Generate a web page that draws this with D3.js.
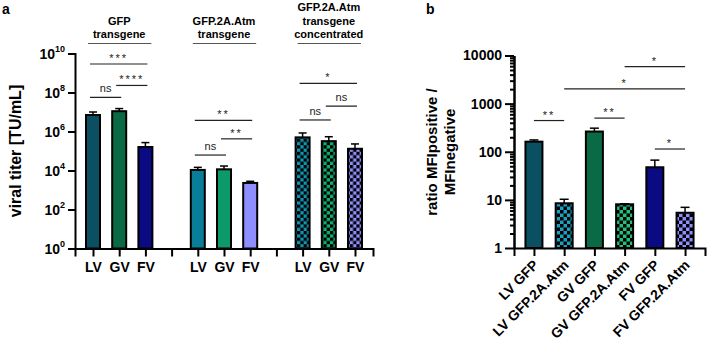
<!DOCTYPE html>
<html>
<head>
<meta charset="utf-8">
<script src="https://cdn.jsdelivr.net/npm/d3@7"></script>
<style>
  body { margin: 0; background: #fff; }
  svg { font-family: Arial, "Liberation Sans", sans-serif; }
  .axis path, .axis line { stroke: #000; stroke-width: 2; }
  .axis text { font-weight: bold; font-size: 14px; fill: #000; }
  .sig { font-size: 11px; fill: #222; }
</style>
</head>
<body>
<svg id="chart" width="708" height="345"></svg>
<script>
// ---- panel a data ----
const vectorsA = ['LV', 'GV', 'FV'];
const groupTitlesA = [['GFP', 'transgene'], ['GFP.2A.Atm', 'transgene'], ['GFP.2A.Atm', 'transgene', 'concentrated']];
const titerMean = [[7e6, 1.1e7, 1.6e5], [1.07e4, 1.15e4, 2.3e3], [5e5, 3.2e5, 1.3e5]];
const titerUpper = [[1e7, 1.5e7, 2.7e5], [1.45e4, 1.7e4, 2.8e3], [8.4e5, 5.4e5, 2.3e5]];
const yTicksA = [1e0, 1e2, 1e4, 1e6, 1e8, 1e10];
// [group, fromBar, toBar, label, height]
const sigA = [
  [0, 0, 1, 'ns', 5.6e7], [0, 0, 2, '***', 2.9e9], [0, 1, 2, '****', 2.3e8],
  [1, 0, 1, 'ns', 6.2e4], [1, 0, 2, '**', 3.7e6], [1, 1, 2, '**', 4.2e5],
  [2, 0, 1, 'ns', 3.9e6], [2, 0, 2, '*', 2.95e8], [2, 1, 2, 'ns', 2.0e7]
];

// ---- panel b data ----
const samplesB = ['LV GFP', 'LV GFP.2A.Atm', 'GV GFP', 'GV GFP.2A.Atm', 'FV GFP', 'FV GFP.2A.Atm'];
const ratioMean = [162, 8.5, 263, 8.1, 47.6, 5.4];
const ratioUpper = [176, 10.3, 309, 8.3, 67, 7.0];
const yTicksB = [1, 10, 100, 1000, 10000];
const sigB = [
  [0, 1, '**', 445], [2, 3, '**', 500], [1, 5, '*', 2030], [3, 5, '*', 5870], [4, 5, '*', 114]
];

const svg = d3.select('#chart');

// colours & checker patterns
const solidA = [['#0b4f62', '#0a6a45', '#0a0a82'], ['#0a7e98', '#0c9a68', '#8e8eff']];
const checkA = ['#1097b3', '#10b070', '#8f8fff'];
const colorB = ['#0b4f62', 'url(#chkB0)', '#0a6a45', 'url(#chkB1)', '#0a0a82', 'url(#chkB2)'];
const checkB = ['#1aa0c0', '#1fc07e', '#8f8fff'];

const defs = svg.append('defs');
function checker(id, col, s) {
  const p = defs.append('pattern').attr('id', id).attr('patternUnits', 'userSpaceOnUse')
    .attr('width', 2 * s).attr('height', 2 * s);
  p.append('rect').attr('width', 2 * s).attr('height', 2 * s).attr('fill', col);
  p.append('rect').attr('width', s).attr('height', s).attr('fill', '#000');
  p.append('rect').attr('x', s).attr('y', s).attr('width', s).attr('height', s).attr('fill', '#000');
}
checkA.forEach((c, i) => checker('chkA' + i, c, 3.3));
checkB.forEach((c, i) => checker('chkB' + i, c, 3.5));

// panel labels
svg.append('text').attr('x', 2).attr('y', 14).attr('font-weight', 'bold').attr('font-size', 14).text('a');
svg.append('text').attr('x', 426).attr('y', 14).attr('font-weight', 'bold').attr('font-size', 14).text('b');

// ================= panel a =================
const slotsA = d3.range(11);
const xA = d3.scalePoint().domain(slotsA).range([75, 373]).padding(0.687);
const yA = d3.scaleLog().domain([1, 1e10]).range([248.5, 53.5]);
const slotOf = (g, i) => g * 4 + i;

svg.append('g').attr('class', 'axis').attr('transform', 'translate(0,248.5)')
  .call(d3.axisBottom(xA).tickSizeOuter(0).tickSize(8).tickPadding(6)
    .tickFormat(d => d % 4 === 3 ? '' : vectorsA[d % 4]));

const gyA = svg.append('g').attr('class', 'axis').attr('transform', 'translate(75,0)')
  .call(d3.axisLeft(yA).tickValues(yTicksA).tickSizeOuter(0).tickSize(7).tickFormat(''));
gyA.selectAll('.tick').append('text')
  .attr('x', -10).attr('dy', '0.35em').attr('text-anchor', 'end')
  .each(function(d) {
    const t = d3.select(this);
    t.append('tspan').text('10');
    t.append('tspan').attr('font-size', 9).attr('dy', '-0.75em').text(String(Math.round(Math.log10(d))));
  });

svg.append('text').attr('transform', 'translate(21,151) rotate(-90)')
  .attr('text-anchor', 'middle').attr('font-weight', 'bold').attr('font-size', 16)
  .text('viral titer [TU/mL]');

const barWA = 16;
titerMean.forEach((grp, g) => {
  grp.forEach((v, i) => {
    const cx = xA(slotOf(g, i));
    const fill = g < 2 ? solidA[g][i] : 'url(#chkA' + i + ')';
    svg.append('line').attr('x1', cx).attr('x2', cx).attr('y1', yA(v)).attr('y2', yA(titerUpper[g][i]))
      .attr('stroke', '#000').attr('stroke-width', 1.5);
    svg.append('line').attr('x1', cx - 4).attr('x2', cx + 4).attr('y1', yA(titerUpper[g][i])).attr('y2', yA(titerUpper[g][i]))
      .attr('stroke', '#000').attr('stroke-width', 1.5);
    svg.append('rect').attr('x', cx - barWA / 2 + 1).attr('y', yA(v))
      .attr('width', barWA - 2).attr('height', yA(1) - yA(v))
      .attr('fill', fill).attr('stroke', '#000').attr('stroke-width', 2);
  });
  // group header
  const c0 = xA(slotOf(g, 0)), c2 = xA(slotOf(g, 2));
  const lines = groupTitlesA[g];
  lines.forEach((t, k) => {
    svg.append('text').attr('x', (c0 + c2) / 2).attr('y', 38 - (lines.length - 1 - k) * 13.5)
      .attr('text-anchor', 'middle').attr('font-weight', 'bold').attr('font-size', 11).text(t);
  });
  svg.append('line').attr('x1', c0 - 5).attr('x2', c2 + 6).attr('y1', 43.5).attr('y2', 43.5)
    .attr('stroke', '#555').attr('stroke-width', 1);
});

function sigMark(x1, x2, y, label) {
  svg.append('line').attr('x1', x1).attr('x2', x2).attr('y1', y).attr('y2', y)
    .attr('stroke', '#222').attr('stroke-width', 1.2);
  const star = label.startsWith('*');
  svg.append('text').attr('class', 'sig').attr('x', (x1 + x2) / 2).attr('y', y - (star ? 2 : 5))
    .attr('text-anchor', 'middle').attr('letter-spacing', star ? 2 : 0)
    .attr('font-size', star ? 12 : 11).text(label);
}
sigA.forEach(([g, a, b, label, h]) => {
  sigMark(xA(slotOf(g, a)) - 3, xA(slotOf(g, b)) + 2, yA(h), label);
});

// ================= panel b =================
const xB = d3.scalePoint().domain(samplesB).range([514, 705]).padding(0.66);
const yB = d3.scaleLog().domain([1, 1e4]).range([248, 55.5]);

const minorB = [];
yTicksB.slice(0, -1).forEach(d => { for (let k = 2; k <= 9; k++) minorB.push(d * k); });
svg.append('g').attr('class', 'axis').attr('transform', 'translate(514,0)')
  .call(d3.axisLeft(yB).tickValues(minorB).tickSize(4).tickSizeOuter(0).tickFormat(''));
svg.append('g').attr('class', 'axis').attr('transform', 'translate(514,0)')
  .call(d3.axisLeft(yB).tickValues(yTicksB).tickSize(9).tickSizeOuter(0).tickPadding(3)
    .tickFormat(d3.format('d')));

const gxB = svg.append('g').attr('class', 'axis').attr('transform', 'translate(0,248)')
  .call(d3.axisBottom(xB).tickSizeOuter(0).tickSize(8).tickFormat(''));
gxB.selectAll('.tick').append('text')
  .attr('transform', 'translate(5,18) rotate(-45)')
  .attr('text-anchor', 'end').text(d => d);

const yTitle = svg.append('text').attr('transform', 'translate(437,152) rotate(-90)')
  .attr('text-anchor', 'middle').attr('font-weight', 'bold').attr('font-size', 15);
yTitle.append('tspan').attr('x', 0).attr('dy', 0).text('ratio MFIpositive /');
yTitle.append('tspan').attr('x', 0).attr('dy', 18).text('MFInegative');

const barWB = 19;
samplesB.forEach((s, i) => {
  const cx = xB(s);
  const v = ratioMean[i];
  svg.append('line').attr('x1', cx).attr('x2', cx).attr('y1', yB(v)).attr('y2', yB(ratioUpper[i]))
    .attr('stroke', '#000').attr('stroke-width', 1.5);
  svg.append('line').attr('x1', cx - 4.5).attr('x2', cx + 4.5).attr('y1', yB(ratioUpper[i])).attr('y2', yB(ratioUpper[i]))
    .attr('stroke', '#000').attr('stroke-width', 1.5);
  svg.append('rect').attr('x', cx - barWB / 2 + 1).attr('y', yB(v))
    .attr('width', barWB - 2).attr('height', yB(1) - yB(v))
    .attr('fill', colorB[i]).attr('stroke', '#000').attr('stroke-width', 2);
});
sigB.forEach(([a, b, label, h]) => {
  sigMark(xB(samplesB[a]), xB(samplesB[b]), yB(h), label);
});
</script>
</body>
</html>
